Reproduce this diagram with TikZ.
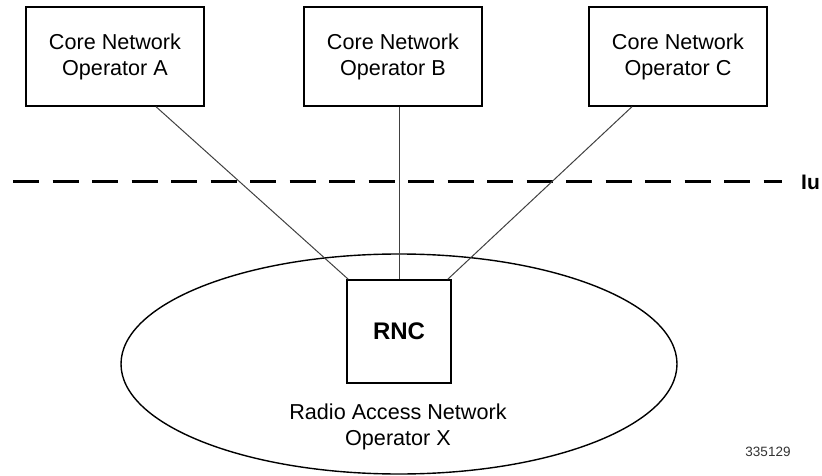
\documentclass[tikz,border=0pt]{standalone}
\usepackage{fontspec}
\setmainfont{Liberation Sans}
\usetikzlibrary{shapes.geometric}
\begin{document}
\begin{tikzpicture}[x=1pt,y=-1pt,
  corebox/.style={draw=black,line width=1.4pt,minimum width=178pt,minimum height=99pt,align=center,inner sep=0pt,font=\fontsize{21.6}{26}\selectfont},
  conn/.style={draw=black!75,line width=1pt},
  lbl/.style={align=center,font=\fontsize{21.6}{26}\selectfont}]
\useasboundingbox (0,0) rectangle (822,476);
% ellipse
\node[draw=black,line width=1.4pt,ellipse,minimum width=556pt,minimum height=220pt,inner sep=0pt] (ran) at (399,364) {};
\node[corebox] (A) at (115,56.5) {Core Network\\Operator A};
\node[corebox] (B) at (393,56.5) {Core Network\\Operator B};
\node[corebox] (C) at (678,56.5) {Core Network\\Operator C};
\node[draw=black,line width=1.4pt,fill=white,minimum width=104pt,minimum height=103pt,inner sep=0pt,font=\fontsize{24}{28}\selectfont\bfseries] (R) at (399,331.5) {RNC};
\node[lbl] (ranlbl) at (398,427) {Radio Access Network\\Operator X};
\node[font=\fontsize{13.5}{16}\selectfont,text=black!80] (id) at (768,452) {335129};
% Iu dashed line
\coordinate (d1) at (13,181);
\coordinate (d2) at (782,181);
\draw[line width=3pt,dash pattern=on 26pt off 13.5pt] (d1) -- (d2);
\node[anchor=west,inner sep=0pt,font=\fontsize{21}{25}\selectfont\bfseries] (iu) at (801,182) {Iu};
% connectors
\draw[conn] ([xshift=41pt]A.south) -- ([xshift=2pt]R.north west);
\draw[conn] ([xshift=6pt]B.south) -- (R.north);
\draw[conn] ([xshift=-46pt]C.south) -- ([xshift=-4pt]R.north east);
\end{tikzpicture}
\end{document}
